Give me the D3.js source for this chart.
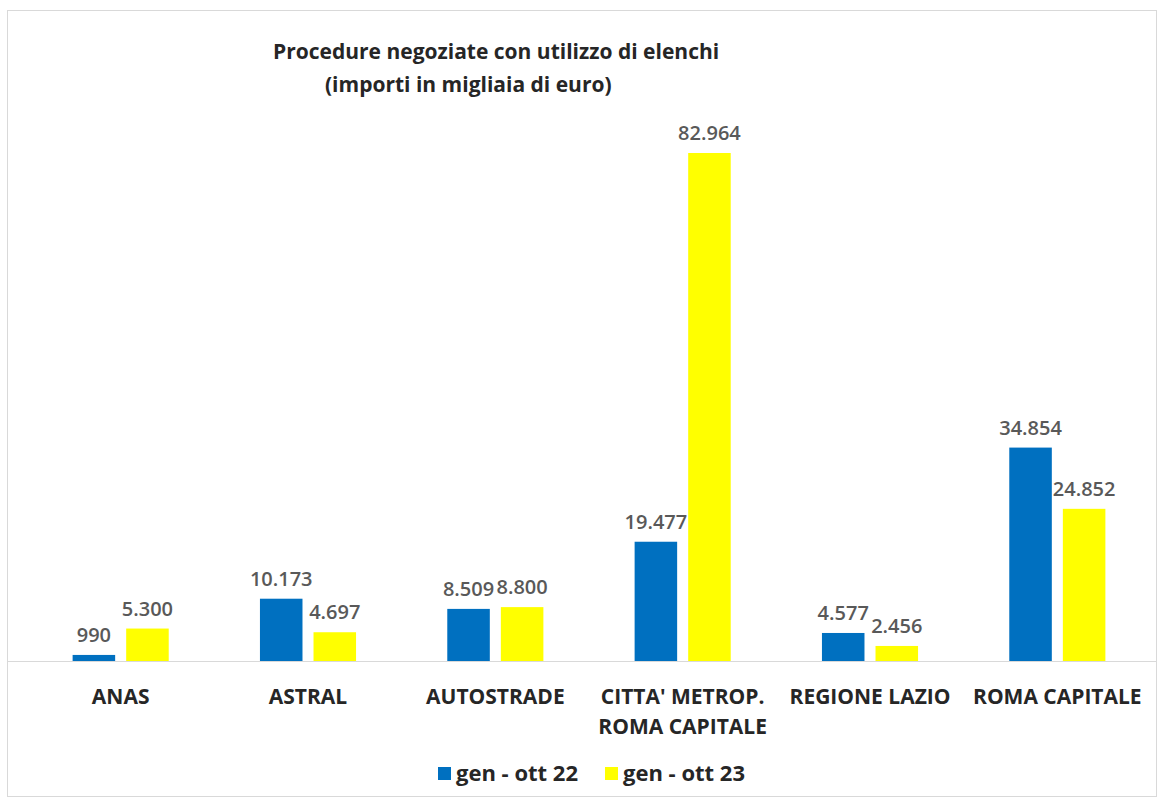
<!DOCTYPE html>
<html>
<head>
<meta charset="utf-8">
<script src="https://cdn.jsdelivr.net/npm/d3@7"></script>
<style>
  body { margin: 0; background: #fff; }
  text { font-family: "Open Sans", sans-serif; font-weight: bold; }
</style>
</head>
<body>
<div id="chart"></div>
<script>
 var blue = '#0070C0',
     yellow = '#FFFF00';

 // data (migliaia di euro)
 var categories = ['ANAS', 'ASTRAL', 'AUTOSTRADE', "CITTA' METROP.|ROMA CAPITALE", 'REGIONE LAZIO', 'ROMA CAPITALE'];
 var seriesNames = ['gen - ott 22', 'gen - ott 23'];
 var values22 = [990, 10173, 8509, 19477, 4577, 34854];
 var values23 = [5300, 4697, 8800, 82964, 2456, 24852];
 var seriesColors = [blue, yellow];

 var pic_width = 1159,
     pic_height = 799;

 var margin = { top: 153, left: 27, right: 8, bottom: 138 };
 var height = pic_height - margin.top - margin.bottom,
     width = pic_width - margin.left - margin.right;

 var it = d3.formatLocale({ decimal: ',', thousands: '.', grouping: [3], currency: ['€', ''] });
 var fmt = it.format(',d');

 var rows = categories.map(function(c, i) {
     return { cat: c, vals: [values22[i], values23[i]] };
 });

 var svg = d3.select('#chart').append('svg')
     .attr('width', pic_width)
     .attr('height', pic_height);

 // outer frame
 svg.append('rect')
     .attr('x', 7.5).attr('y', 10.5)
     .attr('width', 1149).attr('height', 786)
     .attr('fill', '#fff')
     .attr('stroke', '#d9d9d9');

 var x0 = d3.scaleBand()
     .domain(categories)
     .range([0, width])
     .paddingInner(0.487)
     .paddingOuter(0.2435);

 var x1 = d3.scaleBand()
     .domain([0, 1])
     .range([0, x0.bandwidth()])
     .paddingInner(0.206);

 var yScale = d3.scaleLinear().domain([0, 82964]).range([height, 0]);

 var g = svg.append('g')
     .attr('transform', 'translate(' + margin.left + ', ' + margin.top + ')');

 // baseline
 g.append('line')
     .attr('x1', -20).attr('x2', width + 5)
     .attr('y1', yScale(0) + 0.5).attr('y2', yScale(0) + 0.5)
     .attr('stroke', '#d9d9d9');

 var groups = g.selectAll('.grp').data(rows)
     .enter().append('g')
     .attr('class', 'grp')
     .attr('transform', function(d) { return 'translate(' + x0(d.cat) + ',0)'; });

 groups.selectAll('rect').data(function(d) { return d.vals; })
     .enter().append('rect')
     .attr('x', function(d, i) { return x1(i); })
     .attr('width', x1.bandwidth())
     .attr('y', function(d) { return yScale(d); })
     .attr('height', function(d) { return yScale(0) - yScale(d); })
     .style('fill', function(d, i) { return seriesColors[i]; });

 groups.selectAll('.lbl').data(function(d) { return d.vals; })
     .enter().append('text')
     .attr('class', 'lbl')
     .attr('x', function(d, i) { return x1(i) + x1.bandwidth() / 2; })
     .attr('y', function(d) { return yScale(d) - 13; })
     .attr('text-anchor', 'middle')
     .style('font-size', '20px')
     .style('font-weight', '600')
     .style('fill', '#595959')
     .text(function(d) { return fmt(d); });

 // category labels
 var xAxis = g.append('g')
     .attr('transform', 'translate(0,' + height + ')');
 xAxis.selectAll('text').data(categories)
     .enter().append('text')
     .attr('x', function(d) { return x0(d) + x0.bandwidth() / 2; })
     .attr('y', 43)
     .attr('text-anchor', 'middle')
     .style('font-size', '21px')
     .style('fill', '#262626')
     .each(function(d) {
         var lines = d.split('|');
         var t = d3.select(this);
         lines.forEach(function(l, k) {
             t.append('tspan')
                 .attr('x', x0(d) + x0.bandwidth() / 2)
                 .attr('dy', k === 0 ? 0 : 30)
                 .text(l);
         });
     });

 // title
 svg.append('text')
     .attr('x', 273).attr('y', 59)
     .style('font-size', '21px')
     .style('fill', '#262626')
     .text('Procedure negoziate con utilizzo di elenchi');
 svg.append('text')
     .attr('x', 325).attr('y', 92)
     .style('font-size', '21px')
     .style('fill', '#262626')
     .text('(importi in migliaia di euro)');

 // legend
 var legendX = [438, 605];
 var legend = svg.selectAll('.leg').data(seriesNames)
     .enter().append('g')
     .attr('class', 'leg')
     .attr('transform', function(d, i) { return 'translate(' + legendX[i] + ',767)'; });
 legend.append('rect')
     .attr('width', 13).attr('height', 13)
     .style('fill', function(d, i) { return seriesColors[i]; });
 legend.append('text')
     .attr('x', 18).attr('y', 14)
     .style('font-size', '22px')
     .style('fill', '#262626')
     .text(function(d) { return d; });
</script>
</body>
</html>
